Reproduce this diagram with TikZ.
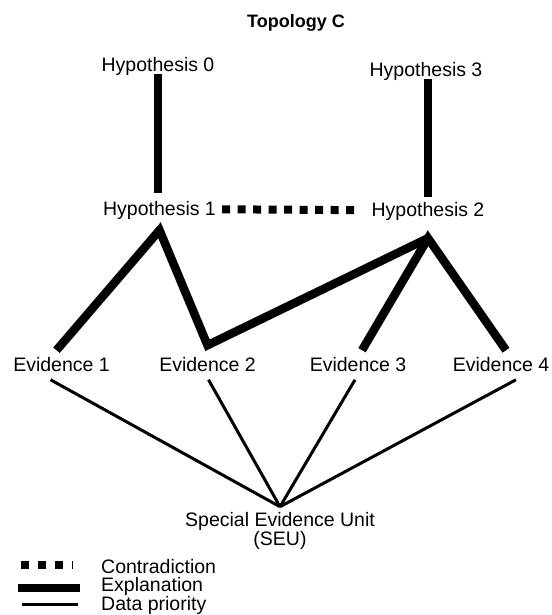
\documentclass[tikz,border=0pt]{standalone}
\usepackage{fontspec}
\setmainfont{Liberation Sans}
\usepackage{tikz}
\usetikzlibrary{positioning}
\tikzset{every node/.style={font=\fontsize{19.5}{19}\selectfont},
         lbl/.style={inner sep=1pt,text height=14.5pt,text depth=1pt},
         evid/.style={lbl,outer ysep=6pt},
         expl/.style={line width=8.5pt},
         contra/.style={line width=8pt,dash pattern=on 8pt off 7.5pt},
         prio/.style={line width=3pt},
        }

\begin{document}
\begin{tikzpicture}[x=1pt,y=1pt]
        \useasboundingbox(0,0)rectangle(551,615);
        \node[anchor=base,font=\bfseries\fontsize{18}{19}\selectfont](title)at(296,587){Topology C};
        \node[lbl](h0)at(158,549.75){Hypothesis 0};
        \node[lbl](h3)at(426,544.75){Hypothesis 3};
        \node[lbl](h1)at(159.5,405.75){Hypothesis 1};
        \node[lbl](h2)at(428,404.75){Hypothesis 2};
        \node[evid](e1)at(61.5,250){Evidence 1};
        \node[evid](e2)at(207.5,250){Evidence 2};
        \node[evid](e3)at(358,250){Evidence 3};
        \node[evid](e4)at(501,250){Evidence 4};
        \node[inner sep=1pt,align=center](seu)at(280,84.5){Special Evidence Unit\\(SEU)};

        \draw[expl,shorten >=7.5pt](h0.south)--(h0.south |- h1.north);
        \draw[expl,shorten >=4.5pt](h3.south -| h2.north)--(h2.north);
        \draw[contra,shorten <=5pt,shorten >=12.5pt](h1.east)--(h2.west);
        \draw[expl]([xshift=-5pt]e1.north)--([yshift=-12pt]h1.south)--([yshift=5pt]e2.north)--([yshift=-19pt]h2.south);
        \draw[expl]([xshift=4pt]e3.north)--([yshift=-19pt]h2.south)--([xshift=5pt]e4.north);
        \draw[prio]([xshift=-11pt]e1.south)--([yshift=4pt]seu.north);
        \draw[prio]([xshift=1pt]e2.south)--([yshift=4pt]seu.north);
        \draw[prio]([xshift=-3pt]e3.south)--([yshift=4pt]seu.north);
        \draw[prio]([xshift=15pt]e4.south)--([yshift=4pt]seu.north);

        \node[lbl,anchor=base west](lc)at(100,41.5){Contradiction};
        \node[lbl,anchor=base west](le)at(100,23){Explanation};
        \node[lbl,anchor=base west](ld)at(100,4.5){Data priority};
        \draw[contra,dash pattern=on 8.5pt off 8.5pt](20.5,49.5)--(73,49.5);
        \draw[expl,line width=8pt](18,27)--(80,27);
        \draw[prio](22,10)--(78,10);
    \end{tikzpicture}
\end{document}
